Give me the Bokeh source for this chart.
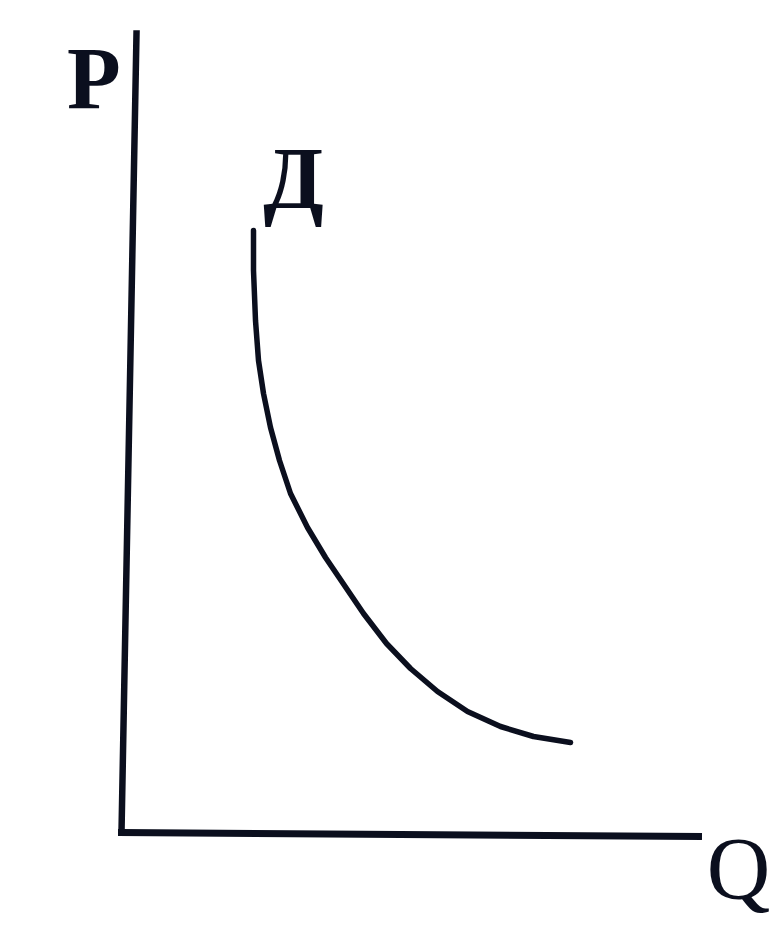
from bokeh.plotting import figure
from bokeh.models import Range1d
from bokeh.core.properties import value
from bokeh.embed import file_html
from bokeh.resources import INLINE

# Demand curve Д (quantity Q, price P; arbitrary units)
demand_q = [13.2, 13.2, 13.4, 13.7, 14.2, 14.9, 15.8, 16.9, 18.6, 20.4, 22.3, 24.2,
            26.5, 28.9, 31.6, 34.6, 37.9, 41.2, 44.9]
demand_p = [60.2, 56.2, 51.2, 47.2, 43.9, 40.5, 37.2, 33.9, 30.5, 27.5, 24.7, 21.9,
            18.9, 16.4, 14.1, 12.1, 10.6, 9.6, 9.0]

# Axis lines (origin and their far ends)
p_axis_q = [0.0, 1.5]
p_axis_p = [0.0, 79.9]
q_axis_q = [0.0, 57.7]
q_axis_p = [0.0, -0.4]

# Labels
label_text = ["P", "Д", "Q"]
label_q = [-2.75, 17.2, 61.7]
label_p = [75.4, 65.4, -3.6]
label_style = ["bold", "bold", "normal"]

INK = "#0b0f1e"

p = figure(width=771, height=925, output_backend="svg", toolbar_location=None,
           x_range=Range1d(-12.1, 65.0), y_range=Range1d(-9.3, 83.2),
           min_border=0, outline_line_color=None,
           background_fill_color="white", border_fill_color="white")
p.axis.visible = False
p.grid.visible = False

p.line(p_axis_q, p_axis_p, line_width=6.5, line_color=INK, line_cap="square")
p.line(q_axis_q, q_axis_p, line_width=7, line_color=INK, line_cap="square")
p.line(demand_q, demand_p, line_width=5.5, line_color=INK, line_cap="round", line_join="round")

for t, x, y, s in zip(label_text, label_q, label_p, label_style):
    p.text(x=[x], y=[y], text=[t], text_font=value("Liberation Serif"),
           text_font_size="88px", text_font_style=s, text_color=INK,
           text_align="center", text_baseline="alphabetic")

open("out.html", "w").write(file_html(p, INLINE))
